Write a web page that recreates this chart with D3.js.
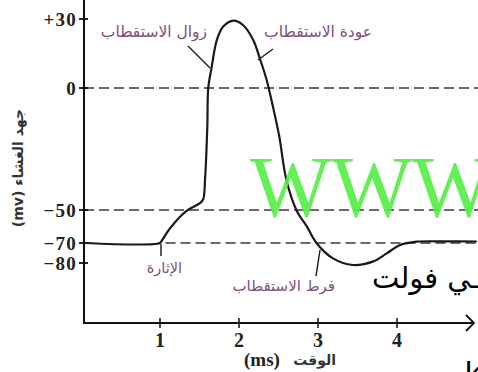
<!DOCTYPE html>
<html><head><meta charset="utf-8">
<script src="https://cdn.jsdelivr.net/npm/d3@7"></script>
<style>html,body{margin:0;padding:0;background:#fff;overflow:hidden}</style>
</head><body>
<svg id="c" width="478" height="372"></svg>
<script>
// ---- data ----
const timeMs = [0.04, 1.0, 1.02, 1.13, 1.34, 1.51, 1.548, 1.570, 1.599, 1.611, 1.654, 1.72, 1.80, 1.93, 2.05, 2.18, 2.27, 2.35, 2.43, 2.51, 2.60, 2.73, 2.86, 2.98, 3.19, 3.44, 3.70, 3.87, 4.04, 4.25, 4.6, 5.01];
const voltage = [-70, -70, -68.8, -60.9, -50.4, -47.1, -45.5, -37.7, -15.9, 0, 9.1, 20.9, 26.7, 29.3, 27.4, 20.9, 12.2, 3.5, -7.7, -19.9, -37.7, -50.4, -60.1, -70, -77.7, -81, -79.2, -75.2, -71, -69.2, -69, -69.1];
const xTicks = [1, 2, 3, 4];
const yTicks = [30, 0, -50, -70, -80];
const yTickLabels = ["+30", "0", "\u221250", "\u221270", "\u221280"];
const refLines = [0, -50, -70];
const yLabel = "جهد الغشاء (mv)";
const xUnit = "(ms)";
const xLabel = "الوقت";
const notes = ["زوال الاستقطاب", "عودة الاستقطاب", "الإثارة", "فرط الاستقطاب"];

// ---- scales ----
const x = d3.scaleLinear().domain([1, 4]).range([160, 397]);
const y = d3.scaleLinear().domain([-80, -70, -50, 0, 30]).range([263, 243, 210, 88, 19]);
const svg = d3.select("#c");
const x0 = 84, yBase = 323, xEnd = 474;

// dashed reference lines
svg.selectAll("line.ref").data(refLines).enter().append("line")
  .attr("x1", d => d === -70 ? x(1.07) : x0).attr("x2", 478)
  .attr("y1", d => y(d)).attr("y2", d => y(d))
  .attr("stroke", "#3a3a3a").attr("stroke-width", 1.5).attr("stroke-dasharray", "10,5");

// axes
svg.append("line").attr("x1", x0).attr("x2", x0).attr("y1", 0).attr("y2", yBase)
  .attr("stroke", "#111").attr("stroke-width", 2);
svg.append("line").attr("x1", x0 - 1).attr("x2", xEnd).attr("y1", yBase).attr("y2", yBase)
  .attr("stroke", "#111").attr("stroke-width", 2);
svg.append("path").attr("d", `M${xEnd-8},${yBase-8} L${xEnd},${yBase} L${xEnd-8},${yBase+8}`)
  .attr("fill", "none").attr("stroke", "#111").attr("stroke-width", 1.8);

// y ticks
svg.selectAll("line.yt").data(yTicks).enter().append("line")
  .attr("x1", x0 - 5).attr("x2", x0 + 4).attr("y1", d => y(d)).attr("y2", d => y(d))
  .attr("stroke", "#111").attr("stroke-width", 1.8);
svg.selectAll("text.yt").data(yTicks).enter().append("text")
  .attr("x", 77).attr("y", d => y(d) + 6.5).attr("text-anchor", "end")
  .attr("font-family", "Liberation Serif").attr("font-weight", "bold").attr("font-size", 19)
  .attr("letter-spacing", 1.2)
  .attr("fill", "#222").text((d, i) => yTickLabels[i]);

// x ticks
svg.selectAll("line.xt").data(xTicks).enter().append("line")
  .attr("x1", d => x(d)).attr("x2", d => x(d)).attr("y1", yBase - 5).attr("y2", yBase + 5)
  .attr("stroke", "#111").attr("stroke-width", 1.5);
svg.selectAll("text.xt").data(xTicks).enter().append("text")
  .attr("x", d => x(d)).attr("y", 347).attr("text-anchor", "middle")
  .attr("font-family", "Liberation Serif").attr("font-weight", "bold").attr("font-size", 20)
  .attr("fill", "#222").text(d => d);

// axis titles
svg.append("text").attr("x", 244).attr("y", 366)
  .attr("font-family", "Liberation Serif").attr("font-weight", "bold").attr("font-size", 19)
  .attr("fill", "#222").text(xUnit);
svg.append("text").attr("x", 336).attr("y", 365).attr("text-anchor", "end")
  .attr("font-family", "DejaVu Sans").attr("font-weight", "bold").attr("font-size", 14)
  .attr("fill", "#333").text(xLabel);
svg.append("text").attr("transform", "translate(23,168) rotate(-90)").attr("text-anchor", "middle")
  .attr("direction", "rtl")
  .attr("font-family", "DejaVu Sans").attr("font-weight", "bold").attr("font-size", 14)
  .attr("fill", "#333").text(yLabel);

// curve
const pts = timeMs.map((t, i) => [t, voltage[i]]);
svg.append("path").datum(pts)
  .attr("d", d3.line().x(d => x(d[0])).y(d => y(d[1])).curve(d3.curveCatmullRom.alpha(0.5)))
  .attr("fill", "none").attr("stroke", "#1a1a1a").attr("stroke-width", 2.2);

// annotations
const purple = "#7d4f78";
const ann = (txt, xr, yb, size) => svg.append("text").attr("x", xr).attr("y", yb)
  .attr("text-anchor", "end")
  .attr("font-family", "DejaVu Sans").attr("font-size", size).attr("fill", purple).text(txt);
ann(notes[0], 207, 37, 15.5);
ann(notes[1], 372, 37, 15.5);
ann(notes[2], 182, 273, 14.5);
ann(notes[3], 335, 291, 15);
const leader = (a, b, c, d) => svg.append("line").attr("x1", a).attr("y1", b).attr("x2", c).attr("y2", d)
  .attr("stroke", "#222").attr("stroke-width", 1.5);
leader(188, 46, 210, 68);
leader(273, 49, 258, 60);
leader(161, 244, 161, 256);
leader(320, 250, 316, 276);

// overlay watermark and stray texts
svg.append("text").attr("x", 250).attr("y", 216)
  .attr("font-family", "Liberation Serif").attr("font-size", 86).attr("fill", "#55ee44").attr("opacity", 0.9)
  .text("WWW");
svg.append("text").attr("x", 480).attr("y", 288).attr("text-anchor", "end")
  .attr("font-family", "DejaVu Sans").attr("font-size", 29).attr("fill", "#000").text("ـي فولت");
svg.append("text").attr("x", 465).attr("y", 384)
  .attr("font-family", "Liberation Sans").attr("font-size", 32).attr("fill", "#000").text("k");
</script>
</body></html>
